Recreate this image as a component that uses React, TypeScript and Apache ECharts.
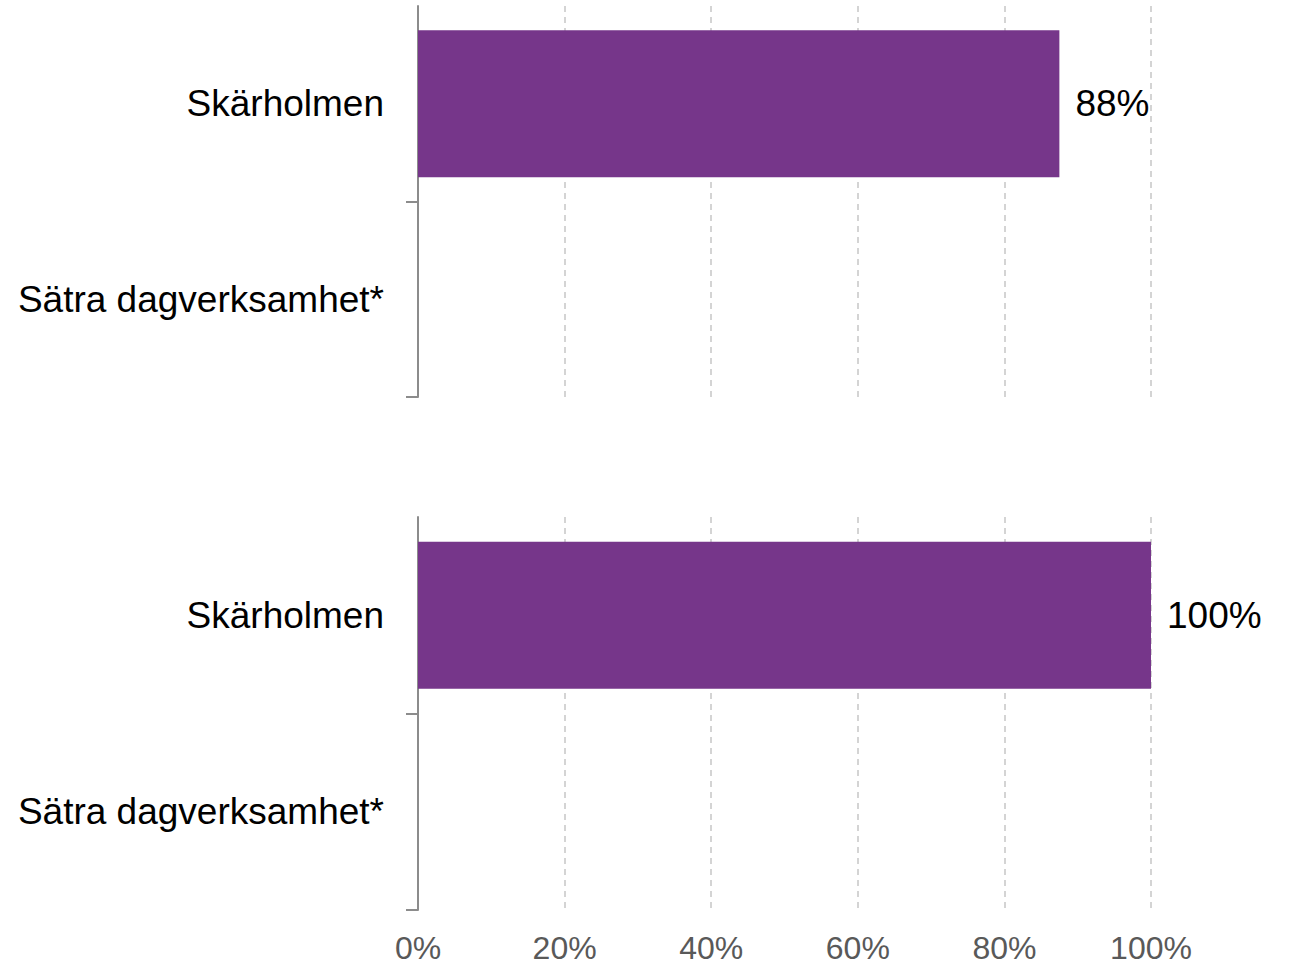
import React, { useEffect, useRef } from "react";
import * as echarts from "echarts";

const categories = ["Skärholmen", "Sätra dagverksamhet*"];
const topValues: (number | null)[] = [87.5, null];
const bottomValues: (number | null)[] = [100, null];
const xTicks = [0, 20, 40, 60, 80, 100];

const FONT = "'Liberation Sans', Arial, sans-serif";
const BAR = "#76368A";
const AXIS = "#8c8c8c";
const GRID = "#c6c6c6";

export default function App() {
  const ref = useRef<HTMLDivElement>(null);
  useEffect(() => {
    if (!ref.current) return;
    const chart = echarts.init(ref.current, undefined, { renderer: "svg" });
    const xAxisBase = (gridIndex: number, showLabels: boolean) => ({
      type: "value",
      gridIndex,
      min: xTicks[0],
      max: xTicks[xTicks.length - 1],
      interval: 20,
      axisLine: { show: false },
      axisTick: { show: false },
      axisLabel: {
        show: showLabels,
        formatter: "{value}%",
        fontSize: 32,
        color: "#595959",
        fontFamily: FONT,
        margin: 22,
      },
      splitLine: {
        show: true,
        lineStyle: { color: GRID, width: 1.5, type: [6, 5] },
      },
    });
    const yLabelAxis = (gridIndex: number) => ({
      type: "category",
      gridIndex,
      data: categories,
      inverse: true,
      position: "left",
      axisLine: { show: false },
      axisTick: { show: false },
      axisLabel: {
        fontSize: 37,
        color: "#000",
        fontFamily: FONT,
        margin: 34,
      },
    });
    const yTickAxis = (gridIndex: number) => ({
      type: "category",
      gridIndex,
      data: ["", "", ""],
      boundaryGap: false,
      inverse: true,
      position: "left",
      axisLine: { show: true, lineStyle: { color: AXIS, width: 2 } },
      axisTick: {
        show: true,
        length: 12,
        interval: (i: number) => i > 0,
        lineStyle: { color: AXIS, width: 2 },
      },
      axisLabel: { show: false },
      splitLine: { show: false },
    });
    const barSeries = (idx: number, yIdx: number, data: (number | null)[]) => ({
      type: "bar",
      xAxisIndex: idx,
      yAxisIndex: yIdx,
      data,
      barWidth: 147,
      itemStyle: { color: BAR },
      label: {
        show: true,
        position: "right",
        distance: 16,
        formatter: (p: any) => Math.round(p.value) + "%",
        fontSize: 37,
        color: "#000",
        fontFamily: FONT,
      },
    });
    chart.setOption({
      animation: false,
      backgroundColor: "#fff",
      grid: [
        { left: 418, top: 6, width: 733, height: 391 },
        { left: 418, top: 517, width: 733, height: 393 },
      ],
      xAxis: [xAxisBase(0, false), xAxisBase(1, true)],
      yAxis: [yLabelAxis(0), yTickAxis(0), yLabelAxis(1), yTickAxis(1)],
      series: [barSeries(0, 0, topValues), barSeries(1, 2, bottomValues)],
    });
    return () => chart.dispose();
  }, []);
  return (
    <div
      ref={ref}
      style={{ position: "absolute", left: 0, top: 0, width: 1290, height: 966 }}
    />
  );
}
